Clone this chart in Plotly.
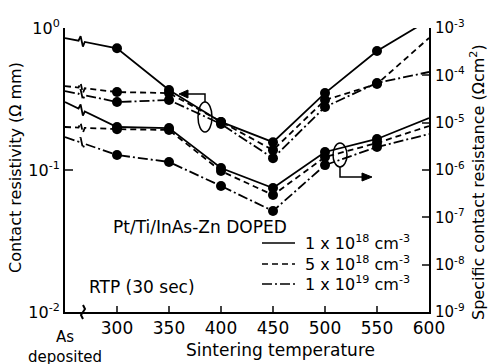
import numpy as np
import plotly.graph_objects as go

# Sintering temperatures (deg C); the "as deposited" column sits at the left edge
AS_DEP_X = 250
temps = [300, 350, 400, 450, 500, 550, 600]
marker_temps = [300, 350, 400, 450, 500, 550]

doping_labels = [
    "1 x 10<sup>18</sup> cm<sup>-3</sup>",
    "5 x 10<sup>18</sup> cm<sup>-3</sup>",
    "1 x 10<sup>19</sup> cm<sup>-3</sup>",
]
dash_styles = ["solid", "6px,4px", "10px,3px,2px,3px"]

# Contact resistivity (ohm mm), left axis: as-deposited value, then temps
rc_asdep = [0.85, 0.39, 0.36]
rc_1e18 = [0.72, 0.366, 0.218, 0.157, 0.348, 0.689, 1.14]
rc_5e18 = [0.354, 0.348, 0.218, 0.138, 0.311, 0.403, 0.85]
rc_1e19 = [0.301, 0.311, 0.211, 0.121, 0.278, 0.41, 0.49]

# Specific contact resistance (ohm cm^2), right axis
rs_asdep = [2.73e-5, 8.1e-6, 4.98e-6]
rs_1e18 = [8.1e-6, 7.7e-6, 1.10e-6, 4.17e-7, 2.40e-6, 4.52e-6, 1.25e-5]
rs_5e18 = [7.3e-6, 7.0e-6, 9.5e-7, 2.96e-7, 1.88e-6, 3.72e-6, 8.5e-6]
rs_1e19 = [2.07e-6, 1.48e-6, 4.59e-7, 1.36e-7, 1.27e-6, 3.06e-6, 5.75e-6]

rc_series = [rc_1e18, rc_5e18, rc_1e19]
rs_series = [rs_1e18, rs_5e18, rs_1e19]

FONT = "DejaVu Sans"
BREAK_X = 266

# plot-area geometry in pixels (used for decorations only)
L, R, T, B = 65, 429, 28, 312


def px(x):
    return (x - L) / (R - L)


def py(y):
    return (B - y) / (B - T)


def broken_line(y0, ys, decade_px):
    """Series path: as-deposited value joined to the first temperature with a
    zig-zag axis-break mark, then the remaining temperatures."""
    ly0, ly1 = np.log10(y0), np.log10(ys[0])

    def lerp(x):
        return ly0 + (ly1 - ly0) * (x - AS_DEP_X) / (temps[0] - AS_DEP_X)

    step = 5.0 / decade_px
    xb = [BREAK_X - 3, BREAK_X - 1, BREAK_X + 1.2, BREAK_X + 3]
    lb = [lerp(xb[0]), lerp(xb[1]) + step, lerp(xb[2]) - step, lerp(xb[3])]
    xs = [AS_DEP_X] + xb + temps
    ls = [ly0] + lb + list(np.log10(ys))
    return xs, list(10 ** np.array(ls))


fig = go.Figure()

for series, y0, axis, dpx in [(rc_series, rc_asdep, "y", 142.0),
                              (rs_series, rs_asdep, "y2", 47.33)]:
    for i, ys in enumerate(series):
        xs, yv = broken_line(y0[i], ys, dpx)
        fig.add_trace(go.Scatter(
            x=xs, y=yv, yaxis=axis, mode="lines",
            line=dict(color="black", width=1.8, dash=dash_styles[i]),
            showlegend=False, hoverinfo="skip"))
        fig.add_trace(go.Scatter(
            x=marker_temps, y=ys[:len(marker_temps)], yaxis=axis,
            mode="markers", marker=dict(color="black", size=10),
            showlegend=False))

fig.update_layout(
    width=488, height=364,
    margin=dict(l=L, r=488 - R, t=T, b=364 - B),
    paper_bgcolor="white", plot_bgcolor="white",
    font=dict(family=FONT, color="black", size=16),
    xaxis=dict(range=[AS_DEP_X, 600], tickvals=temps,
               ticks="inside", ticklen=6, tickwidth=1.5,
               showline=True, linecolor="black", linewidth=2,
               showgrid=False, zeroline=False,
               tickfont=dict(size=17), ticklabelstandoff=0),
    yaxis=dict(type="log", range=[-2, 0],
               tickvals=[0.01, 0.1, 1],
               ticktext=["10<sup>-2</sup>", "10<sup>-1</sup>", "10<sup>0</sup>"],
               ticks="inside", ticklen=8, tickwidth=1.5,
               showline=True, linecolor="black", linewidth=2,
               showgrid=False, zeroline=False, tickfont=dict(size=16)),
    yaxis2=dict(type="log", range=[-9, -3], overlaying="y", side="right",
                tickvals=[10.0 ** k for k in range(-9, -2)],
                ticktext=[f"10<sup>{k}</sup>" for k in range(-9, -2)],
                ticks="inside", ticklen=7, tickwidth=1.5,
                showline=True, linecolor="black", linewidth=2,
                showgrid=False, zeroline=False, tickfont=dict(size=15),
                ticklabelstandoff=1),
)

shapes = []
annotations = []

# break mark on the temperature axis
shapes.append(dict(type="path", xref="paper", yref="paper",
                   path=f"M{px(83)},{py(305)} L{px(85)},{py(309)} "
                        f"L{px(81)},{py(315)} L{px(83)},{py(319)}",
                   line=dict(color="black", width=2)))

# ellipse + arrow marking the left-axis group
shapes.append(dict(type="circle", xref="paper", yref="paper",
                   x0=px(198), x1=px(212), y0=py(132), y1=py(102),
                   line=dict(color="black", width=1.5)))
shapes.append(dict(type="path", xref="paper", yref="paper",
                   path=f"M{px(205)},{py(102)} L{px(205)},{py(94)} L{px(186)},{py(94)}",
                   line=dict(color="black", width=1.5)))
shapes.append(dict(type="path", xref="paper", yref="paper",
                   path=f"M{px(179)},{py(94)} L{px(188)},{py(90)} L{px(188)},{py(98)} Z",
                   fillcolor="black", line=dict(color="black", width=1)))

# ellipse + arrow marking the right-axis group
shapes.append(dict(type="circle", xref="paper", yref="paper",
                   x0=px(333), x1=px(347), y0=py(167), y1=py(143),
                   line=dict(color="black", width=1.5)))
shapes.append(dict(type="path", xref="paper", yref="paper",
                   path=f"M{px(340)},{py(167)} L{px(340)},{py(177)} L{px(364)},{py(177)}",
                   line=dict(color="black", width=1.5)))
shapes.append(dict(type="path", xref="paper", yref="paper",
                   path=f"M{px(372)},{py(177)} L{px(362)},{py(173)} L{px(362)},{py(181)} Z",
                   fillcolor="black", line=dict(color="black", width=1)))

# legend block
annotations.append(dict(text="Pt/Ti/InAs-Zn DOPED", xref="paper", yref="paper",
                        x=px(111), y=py(227), xanchor="left", yanchor="middle",
                        showarrow=False, font=dict(size=17)))
for i, yrow in enumerate([243, 264, 284]):
    shapes.append(dict(type="line", xref="paper", yref="paper",
                       x0=px(262), x1=px(295), y0=py(yrow), y1=py(yrow),
                       line=dict(color="black", width=1.6, dash=dash_styles[i])))
    annotations.append(dict(text=doping_labels[i], xref="paper", yref="paper",
                            x=px(303), y=py(yrow - 1), xanchor="left",
                            yanchor="middle", showarrow=False,
                            font=dict(size=16)))

annotations.append(dict(text="RTP (30 sec)", xref="paper", yref="paper",
                        x=px(87), y=py(287), xanchor="left", yanchor="middle",
                        showarrow=False, font=dict(size=17)))

# axis titles
annotations.append(dict(text="Contact resistivity (Ω mm)", xref="paper",
                        yref="paper", x=px(15), y=py(168), textangle=-90,
                        xanchor="center", yanchor="middle", showarrow=False,
                        font=dict(size=16)))
annotations.append(dict(text="Specific contact resistance (Ωcm<sup>2</sup>)",
                        xref="paper", yref="paper", x=px(478), y=py(182),
                        textangle=-90, xanchor="center", yanchor="middle",
                        showarrow=False, font=dict(size=16)))
annotations.append(dict(text="Sintering temperature", xref="paper",
                        yref="paper", x=px(280), y=py(350), xanchor="center",
                        yanchor="middle", showarrow=False, font=dict(size=17)))
annotations.append(dict(text="As<br>deposited", xref="x", yref="paper",
                        x=AS_DEP_X, y=py(347), xanchor="center",
                        yanchor="middle", showarrow=False,
                        font=dict(size=15)))

fig.update_layout(shapes=shapes, annotations=annotations)

fig.write_html("out.html")
